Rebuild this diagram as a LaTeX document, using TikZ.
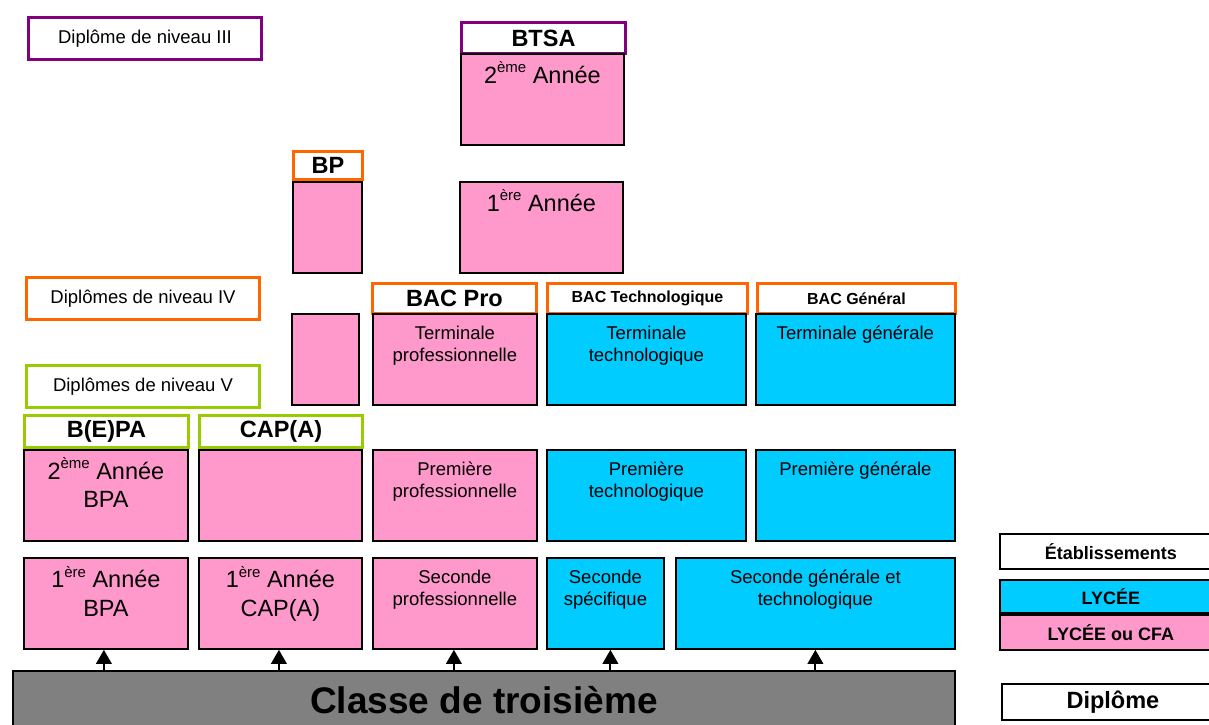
\documentclass[tikz,border=0pt]{standalone}
\usepackage{fontspec}
\setmainfont{Liberation Sans}
\usetikzlibrary{arrows.meta}
\definecolor{pinkc}{HTML}{FF99CC}
\definecolor{cyanc}{HTML}{00CCFF}
\definecolor{grayc}{HTML}{808080}
\definecolor{purplec}{HTML}{800080}
\definecolor{orangec}{HTML}{FF6600}
\definecolor{greenc}{HTML}{99CC00}
\newcommand\rbox[7][]{\node[#1, anchor=north west, inner sep=0pt, minimum width={#5pt-#3pt}, minimum height={#6pt-#4pt}] (#2) at (#3,#4) {#7};}
\newcommand\sups[1]{\raisebox{0.45em}{\fontsize{15}{15}\selectfont #1}}
\tikzset{
  pinkbox/.style={draw=black, line width=1.8pt, fill=pinkc},
  cyanbox/.style={draw=black, line width=1.8pt, fill=cyanc},
  whitebox/.style={draw=black, line width=1.8pt, fill=white},
  purplehd/.style={draw=purplec, line width=3pt, fill=white},
  orangehd/.style={draw=orangec, line width=3pt, fill=white},
  greenhd/.style={draw=greenc, line width=3pt, fill=white},
  fbig/.style={font=\bfseries\fontsize{23.5}{28}\selectfont},
  fsmallb/.style={font=\bfseries\fontsize{16}{19}\selectfont},
  flabel/.style={font=\fontsize{18.5}{22}\selectfont},
  flegend/.style={font=\bfseries\fontsize{18}{21}\selectfont},
  tmid/.style={font=\fontsize{18.5}{22}\selectfont, align=center, inner sep=0pt, anchor=north},
  tlarge/.style={font=\fontsize{23.5}{28.5}\selectfont, align=center, inner sep=0pt, anchor=north},
  arr/.style={line width=2pt, -{Triangle[width=15.5pt,length=14pt]}}
}
\begin{document}
\begin{tikzpicture}[x=1pt, y=-1pt]
\useasboundingbox (0,0) rectangle (1209,724);
% level labels
\rbox[purplehd, flabel]{lIII}{27}{16}{260}{58}{Diplôme de niveau III}
\rbox[orangehd, flabel]{lIV}{25}{276}{258}{318}{Diplômes de niveau IV}
\rbox[greenhd, flabel]{lV}{25}{364}{258}{406}{Diplômes de niveau V}
% BTSA
\rbox[purplehd, fbig]{hBTSA}{460}{21}{624}{52}{BTSA}
\rbox[pinkbox]{bBT2}{460}{53}{623}{144}{}
\node[tlarge] (tBT2) at ([yshift=-8.5pt]bBT2.north) {2\sups{ème} Année};
\rbox[pinkbox]{bBT1}{459}{181}{622}{272}{}
\node[tlarge] (tBT1) at ([yshift=-8.5pt]bBT1.north) {1\sups{ère} Année};
% BP
\rbox[orangehd, fbig]{hBP}{292}{150}{361}{178}{BP}
\rbox[pinkbox]{bBP1}{292}{181}{361}{272}{}
\rbox[pinkbox]{bBP2}{291}{313}{358}{404}{}
% BAC headers
\rbox[orangehd, fbig]{hPro}{371}{282}{535}{312}{BAC Pro}
\rbox[orangehd, fsmallb]{hTech}{546}{282}{746}{312}{BAC Technologique}
\rbox[orangehd, fsmallb]{hGen}{756}{282}{954}{312}{BAC Général}
% Terminale row
\rbox[pinkbox]{bTP}{372}{313}{536}{404}{}
\node[tmid] (tTP) at ([yshift=-13pt]bTP.north) {Terminale\\professionnelle};
\rbox[cyanbox]{bTT}{546}{313}{745}{404}{}
\node[tmid] (tTT) at ([yshift=-13pt]bTT.north) {Terminale\\technologique};
\rbox[cyanbox]{bTG}{755}{313}{954}{404}{}
\node[tmid] (tTG) at ([yshift=-13pt]bTG.north) {Terminale générale};
% B(E)PA / CAP(A) headers
\rbox[greenhd, fbig]{hBEPA}{23}{414}{187}{446}{B(E)PA}
\rbox[greenhd, fbig]{hCAP}{198}{414}{361}{446}{CAP(A)}
% Premiere row
\rbox[pinkbox]{bP1}{23}{449}{187}{540}{}
\node[tlarge] (tP1) at ([yshift=-8.5pt]bP1.north) {2\sups{ème} Année\\BPA};
\rbox[pinkbox]{bP2}{198}{449}{361}{540}{}
\rbox[pinkbox]{bPP}{372}{449}{536}{540}{}
\node[tmid] (tPP) at ([yshift=-13pt]bPP.north) {Première\\professionnelle};
\rbox[cyanbox]{bPT}{546}{449}{745}{540}{}
\node[tmid] (tPT) at ([yshift=-13pt]bPT.north) {Première\\technologique};
\rbox[cyanbox]{bPG}{755}{449}{954}{540}{}
\node[tmid] (tPG) at ([yshift=-13pt]bPG.north) {Première générale};
% Seconde row
\rbox[pinkbox]{bS1}{23}{557}{187}{648}{}
\node[tlarge] (tS1) at ([yshift=-9pt]bS1.north) {1\sups{ère} Année\\BPA};
\rbox[pinkbox]{bS2}{198}{557}{361}{648}{}
\node[tlarge] (tS2) at ([yshift=-9pt]bS2.north) {1\sups{ère} Année\\CAP(A)};
\rbox[pinkbox]{bSP}{372}{557}{536}{648}{}
\node[tmid] (tSP) at ([yshift=-13pt]bSP.north) {Seconde\\professionnelle};
\rbox[cyanbox]{bSS}{546}{557}{663}{648}{}
\node[tmid] (tSS) at ([yshift=-13pt]bSS.north) {Seconde\\spécifique};
\rbox[cyanbox]{bSG}{675}{557}{954}{648}{}
\node[tmid] (tSG) at ([yshift=-13pt]bSG.north) {Seconde générale et\\technologique};
% Classe de troisieme
\rbox[draw=black, line width=1.8pt, fill=grayc, font=\bfseries\fontsize{37}{44}\selectfont]{troisieme}{12}{670}{954}{728}{Classe de troisième}
% arrows
\draw[arr] ([xshift=-2pt]troisieme.north -| bS1.south) -- ([xshift=-2pt]bS1.south);
\draw[arr] ([xshift=-1.5pt]troisieme.north -| bS2.south) -- ([xshift=-1.5pt]bS2.south);
\draw[arr] ([xshift=-1pt]troisieme.north -| bSP.south) -- ([xshift=-1pt]bSP.south);
\draw[arr] ([xshift=5pt]troisieme.north -| bSS.south) -- ([xshift=5pt]bSS.south);
\draw[arr] (troisieme.north -| bSG.south) -- (bSG.south);
% legend
\rbox[whitebox, flegend]{gEt}{999}{533}{1221}{568}{Établissements}
\rbox[cyanbox, flegend]{gLy}{999}{579}{1221}{612}{LYCÉE}
\rbox[pinkbox, flegend]{gLC}{999}{614}{1221}{649}{LYCÉE ou CFA}
\rbox[whitebox, fbig]{gDi}{1001}{683}{1223}{719}{Diplôme}
\end{tikzpicture}
\end{document}
